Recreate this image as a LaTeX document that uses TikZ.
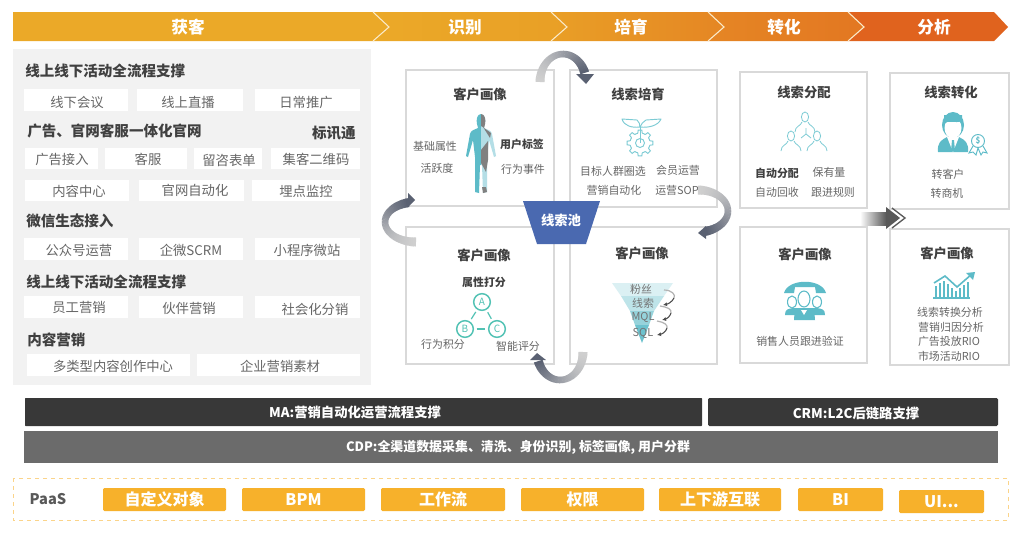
\documentclass[tikz,border=0pt]{standalone}
\usepackage{fontspec}
\usetikzlibrary{arrows.meta}
\setmainfont{Noto Sans CJK SC}
\definecolor{txt}{HTML}{666666}
\definecolor{ttl}{HTML}{404040}
\definecolor{teal1}{HTML}{5DBBC8}
\definecolor{teal2}{HTML}{7CCBD4}
\definecolor{lightbody}{HTML}{B4DEE6}
\definecolor{abc}{HTML}{52C2B4}
\definecolor{arcl}{HTML}{CFCFCF}
\definecolor{arcd}{HTML}{5A6172}
\definecolor{orangebox}{HTML}{F7B12B}
\definecolor{poolblue}{HTML}{4A69B0}
\definecolor{bandA}{HTML}{EBA928}
\definecolor{bandB}{HTML}{E99F26}
\definecolor{bandC}{HTML}{E79325}
\definecolor{bandD}{HTML}{E58624}
\definecolor{bandE}{HTML}{E37722}
\definecolor{bandF}{HTML}{E0631E}
\newcommand\gradarc[7]{%
  \foreach \i in {0,...,47}{
    \pgfmathsetmacro\pc{100*(\i/47)^1.4}
    \pgfmathsetmacro\aa{#5+(#6-#5)*\i/48}
    \pgfmathsetmacro\ab{#5+(#6-#5)*(\i+1.3)/48}
    \pgfmathsetmacro\wd{(#7-2.5*sin(\i*180/47))*0.75}
    \draw[arcd!\pc!arcl,line width=\wd pt] ({#1+#3*cos(\aa)},{#2-#4*sin(\aa)}) -- ({#1+#3*cos(\ab)},{#2-#4*sin(\ab)});
  }}
\newcommand\wb[8]{\fill[white] (#2,#3) rectangle (#4,#5); \node[item] (#1) at (#6,#7) {#8};}
\newcommand\card[5]{\fill[white] (#2,#3) rectangle (#4,#5); \draw[cardline] (#2,#3) rectangle (#4,#5); \coordinate (#1) at ({(#2+#4)/2},{(#3+#5)/2});}
\newcommand\oran[6]{\fill[orangebox,rounded corners=1pt] (#2,#3) rectangle (#4,#5); \node[orangetxt] (#1) at ({(#2+#4)/2},{(#3+#5)/2}) {#6};}
\newcommand\peopleicon[2]{\begin{scope}[shift={(#1,#2)},teal2,line width=.6pt]
  \draw (0,-3) ellipse [x radius=3.6,y radius=5];
  \draw (-10,12) .. controls (-10,6) and (-4,6) .. (-3,2);
  \draw (10,12) .. controls (10,6) and (4,6) .. (3,2);
\end{scope}}
\tikzset{
  x=0.75pt,y=-0.75pt,
  item/.style={font=\fontsize{10}{12}\selectfont,text=txt,inner sep=0pt},
  head/.style={font=\fontsize{10.9}{13}\selectfont\bfseries,text=ttl,inner sep=0pt,anchor=west},
  ctitle/.style={font=\fontsize{10}{12}\selectfont\bfseries,text=ttl,inner sep=0pt},
  small/.style={font=\fontsize{8.2}{10}\selectfont,text=txt,inner sep=0pt},
  smallb/.style={font=\fontsize{8.2}{10}\selectfont\bfseries,text=ttl,inner sep=0pt},
  cardline/.style={draw=black!15,line width=.8pt},
  bandtxt/.style={font=\fontsize{12.5}{15}\selectfont\bfseries,text=white,inner sep=0pt},
  bartxt/.style={font=\fontsize{10}{12}\selectfont\bfseries,text=white,inner sep=0pt},
  orangetxt/.style={font=\fontsize{12}{14}\selectfont\bfseries,text=white,inner sep=0pt},
  abcnode/.style={draw=abc,line width=1.1pt,circle,minimum size=12.5pt,inner sep=0pt,font=\fontsize{7.5}{8}\selectfont,text=abc},
}
\begin{document}
\begin{tikzpicture}
\useasboundingbox (0,0) rectangle (1024,536);
\fill[white] (0,0) rectangle (1024,536);
% header band
\fill[bandA] (13,12) -- (373,12) -- (389,27) -- (373,41) -- (13,41) -- cycle;
\shade[left color=bandA,right color=bandB] (373,12) -- (551,12) -- (567,27) -- (551,41) -- (373,41) -- (389,27) -- cycle;
\shade[left color=bandB,right color=bandD] (551,12) -- (708,12) -- (724,27) -- (708,41) -- (551,41) -- (567,27) -- cycle;
\shade[left color=bandD,right color=bandE] (708,12) -- (848,12) -- (864,27) -- (848,41) -- (708,41) -- (724,27) -- cycle;
\fill[bandF] (848,12) -- (994,12) -- (1008,27) -- (994,41) -- (848,41) -- (864,27) -- cycle;
\draw[white!75!bandA,line width=.8pt] (373,12) -- (389,27) -- (373,41);
\draw[white!75!bandA,line width=.8pt] (551,12) -- (567,27) -- (551,41);
\draw[white!75!bandA,line width=.8pt] (708,12) -- (724,27) -- (708,41);
\draw[white!75!bandA,line width=.8pt] (848,12) -- (864,27) -- (848,41);
\node[bandtxt] (b1) at (188,27) {获客};
\node[bandtxt] (b2) at (465,27) {识别};
\node[bandtxt] (b3) at (631,27) {培育};
\node[bandtxt] (b4) at (784,27) {转化};
\node[bandtxt] (b5) at (934,27) {分析};
% left panel
\fill[black!5] (13,49) rectangle (371,385);
\node[head] (t1) at (25,71) {线上线下活动全流程支撑};
\wb{a1}{24}{89}{128}{111}{77}{102}{线下会议}
\wb{a2}{137}{89}{243}{111}{188}{102}{线上直播}
\wb{a3}{255}{89}{360}{111}{306}{102}{日常推广}
\node[head] (t2) at (27,131) {广告、官网客服一体化官网};
\node[head,anchor=east] (t2b) at (356,133) {标讯通};
\wb{c1}{25}{148}{98}{169}{62}{159}{广告接入}
\wb{c2}{105}{148}{187}{169}{148}{159}{客服}
\wb{c3}{194}{148}{262}{169}{229}{160}{留咨表单}
\wb{c4}{271}{148}{360}{169}{316}{159}{集客二维码}
\wb{d1}{25}{180}{129}{201}{79}{191}{内容中心}
\wb{d2}{139}{180}{244}{201}{195}{190}{官网自动化}
\wb{d3}{252}{180}{360}{201}{306}{191}{埋点监控}
\node[head] (t3) at (26,221) {微信生态接入};
\wb{e1}{24}{238}{128}{260}{79}{250}{公众号运营}
\wb{e2}{139}{238}{243}{260}{191}{250}{企微SCRM}
\wb{e3}{255}{238}{360}{260}{307}{250}{小程序微站}
\node[head] (t4) at (26,282) {线上线下活动全流程支撑};
\wb{f1}{24}{296}{128}{318}{79}{307}{员工营销}
\wb{f2}{139}{296}{243}{318}{189}{308}{伙伴营销}
\wb{f3}{255}{296}{360}{318}{315}{309}{社会化分销}
\node[head] (t5) at (27,340) {内容营销};
\wb{g1}{27}{354}{190}{376}{113}{366}{多类型内容创作中心}
\wb{g2}{197}{354}{360}{376}{280}{366}{企业营销素材}
% cards
\card{k1}{406}{70}{554}{206}
\card{k2}{570}{70}{717}{207}
\card{k3}{406}{227}{554}{364}
\card{k4}{570}{227}{717}{364}
\card{k5}{740}{72}{867}{208}
\card{k6}{740}{227}{867}{363}
\card{k7}{890}{73}{1009}{209}
\card{k8}{890}{229}{1009}{365}
% card 1
\node[ctitle] (k1t) at (480,94) {客户画像};
\node[small] (k1a) at (435,146) {基础属性};
\node[small] (k1b) at (437,168) {活跃度};
\node[smallb] (k1c) at (522,144) {用户标签};
\node[small] (k1d) at (523,169) {行为事件};
% body figure
\fill[teal1] (481,114) .. controls (477,114) and (476,120) .. (477,124) -- (478,128) .. controls (474,130) and (471,130) .. (470,134) -- (466,156) -- (468,157) -- (473,140) -- (475,157) -- (475,192) -- (479,193) -- (480,165) -- (481,165) -- cycle;
\fill[lightbody] (481,114) .. controls (485,114) and (486,120) .. (485,124) -- (484,128) .. controls (488,130) and (491,130) .. (492,134) -- (496,156) -- (494,157) -- (489,140) -- (487,157) -- (487,192) -- (483,193) -- (482,165) -- (481,165) -- cycle;
\fill[black!50] (481,114) .. controls (485,114) and (486,120) .. (485,124) -- (484,128) -- (491,133) -- (490,138) -- (483,127) -- (481,126) -- cycle;
\fill[black!50] (481,150) -- (488,141) -- (488,160) -- (486,172) -- (481,163) -- cycle;
\fill[black!50] (482,187) -- (486,187) -- (487,192) -- (483,193) -- cycle;
% card 2
\node[ctitle] (k2t) at (638,94) {线索培育};
\draw[teal2,line width=.7pt,line join=round] (622,119) -- (637,120) .. controls (639,122) and (640,124) .. (640,127) .. controls (632,128) and (624,126) .. cycle;
\draw[teal2,line width=.7pt,line join=round] (661,119) -- (646,120) .. controls (643,122) and (641,124) .. (640,127) .. controls (648,128) and (658,126) .. cycle;
\draw[teal2,line width=.7pt] (640,127) -- (640,143);
\begin{scope}[shift={(640,143)},teal2,line width=.7pt]
\foreach \t in {0,45,...,315}{
  \draw ({10*cos(\t-13)},{10*sin(\t-13)}) -- ({13*cos(\t-8)},{13*sin(\t-8)}) -- ({13*cos(\t+8)},{13*sin(\t+8)}) -- ({10*cos(\t+13)},{10*sin(\t+13)});
  \draw ({10*cos(\t+13)},{10*sin(\t+13)}) -- ({10*cos(\t+22.5)},{10*sin(\t+22.5)}) -- ({10*cos(\t+32)},{10*sin(\t+32)});
}
\draw (0,0) circle [radius=4.5];
\end{scope}
\node[small] (k2a) at (613,171) {目标人群圈选};
\node[small] (k2b) at (678,170) {会员运营};
\node[small] (k2c) at (614,190) {营销自动化};
\node[small] (k2d) at (677,190) {运营SOP};
% card 3
\node[ctitle] (k3t) at (484,255) {客户画像};
\node[smallb] (k3a) at (484,282) {属性打分};
\node[abcnode] (nA) at (482,302) {A};
\node[abcnode] (nB) at (465,329) {B};
\node[abcnode] (nC) at (497,329) {C};
\draw[abc,line width=.9pt,shorten >=2pt,shorten <=2pt] (nA) -- (nB);
\draw[abc,line width=.9pt,shorten >=2pt,shorten <=2pt] (nA) -- (nC);
\draw[abc,line width=.9pt,shorten >=2pt,shorten <=2pt] (nB) -- (nC);
\node[small] (k3b) at (443,344) {行为积分};
\node[small] (k3c) at (518,346) {智能评分};
% card 4
\node[ctitle] (k4t) at (642,253) {客户画像};
\fill[teal1!22!white] (612,283) -- (673,283) -- (664,296) -- (621,296) -- cycle;
\fill[teal1!40!white] (621,296) -- (664,296) -- (654,311) -- (630,311) -- cycle;
\fill[teal1!65!white] (630,311) -- (654,311) -- (649,325) -- (635,325) -- cycle;
\fill[teal1!90!white] (635,325) -- (649,325) -- (642,343) -- cycle;
\node[small,text=black!55] (k4a) at (641,289) {粉丝};
\node[small,text=black!55] (k4b) at (643,303) {线索};
\node[small,text=black!55] (k4c) at (643,317) {MQL};
\node[small,text=black!55] (k4d) at (643,333) {SQL};
\draw[black!30,line width=.9pt] (664,290) .. controls (672,290) and (676,295) .. (674,298);
\draw[black!70,line width=.8pt,-{Latex[length=3pt,width=3pt]}] (674,298) .. controls (672,302) and (668,304) .. (663,305);
\draw[black!30,line width=.9pt] (660,306) .. controls (667,307) and (672,309) .. (671,313);
\draw[black!70,line width=.8pt,-{Latex[length=3pt,width=3pt]}] (671,313) .. controls (670,317) and (666,319) .. (662,320);
\draw[black!30,line width=.9pt] (657,321) .. controls (664,322) and (668,325) .. (667,328);
\draw[black!70,line width=.8pt,-{Latex[length=3pt,width=3pt]}] (667,328) .. controls (666,332) and (662,334) .. (657,335);
% card 5
\node[ctitle] (k5t) at (804,92) {线索分配};
\peopleicon{805}{120}
\peopleicon{791}{139}
\peopleicon{817}{139}
\draw[teal2,line width=.6pt] (806,134) -- (806,128) (806,134) -- (801,138) (806,134) -- (811,138);
\node[smallb] (k5a) at (777,173) {自动分配};
\node[small] (k5b) at (829,172) {保有量};
\node[small] (k5c) at (777,192) {自动回收};
\node[small] (k5d) at (833,192) {跟进规则};
% card 6
\node[ctitle] (k6t) at (805,254) {客户画像};
\fill[teal1] (784,293) .. controls (788,278) and (822,278) .. (826,293) -- (816,293) -- (815,287) -- (795,287) -- (794,293) -- cycle;
\fill[teal1] (785,315) .. controls (785,309) and (788,309) .. (793,308) -- (817,308) .. controls (822,309) and (825,309) .. (825,315) -- cycle;
\draw[teal1,fill=white,line width=.8pt] (792,302) ellipse [x radius=4.5,y radius=6];
\draw[teal1,fill=white,line width=.8pt] (817,302) ellipse [x radius=4.5,y radius=6];
\fill[teal1] (794,320) .. controls (794,312) and (797,310) .. (800,309) -- (809,309) .. controls (812,310) and (815,312) .. (815,320) -- cycle;
\draw[teal1,fill=white,line width=.8pt] (804,299) ellipse [x radius=6,y radius=8];
\fill[white] (801,310) -- (804,315) -- (807,310) -- cycle;
\node[small] (k6a) at (800,341) {销售人员跟进验证};
% card 7
\node[ctitle] (k7t) at (951,92) {线索转化};
\fill[teal1] (938,152) .. controls (937,143) and (941,140) .. (947,137) -- (959,137) .. controls (965,140) and (969,143) .. (968,152) -- cycle;
\fill[teal1] (953,125) ellipse [x radius=11,y radius=13];
\fill[white] (953,128) ellipse [x radius=8.5,y radius=10.5];
\fill[teal1] (944,124) .. controls (948,119) and (955,124) .. (962,121) -- (962,115) -- (944,115) -- cycle;
\fill[white] (947,137) -- (959,137) -- (953,152) -- cycle;
\fill[teal1] (952,140) -- (954,140) -- (955,151) -- (951,151) -- cycle;
\draw[teal1,line width=.7pt] (978,141) circle [radius=6.5];
\draw[teal1,line width=.7pt] (973,146) -- (969,153) -- (973,152) -- (976,155) -- (978,148) -- (981,155) -- (983,152) -- (987,153) -- (983,146);
\node[font=\fontsize{6}{7}\selectfont\bfseries,text=teal1,inner sep=0pt] (k7d) at (978,141) {\$};
\node[small] (k7a) at (948,174) {转客户};
\node[small] (k7b) at (947,193) {转商机};
% card 8
\node[ctitle] (k8t) at (947,253) {客户画像};
\draw[teal1,line width=1.2pt] (934,283) -- (945,276) -- (957,287) -- (972,274);
\fill[teal1] (975,272) -- (966,273) -- (973,280) -- cycle;
\foreach \xa/\ya in {936/286,940/283,944/281,948/284,952/288,956/291,960/288,964/285,968/282}
  \draw[teal1,line width=1.1pt] (\xa,\ya) -- (\xa,298);
\draw[teal1,line width=1.3pt] (933,298) -- (970,298);
\node[small] (k8a) at (950,312) {线索转换分析};
\node[small] (k8b) at (951,327) {营销归因分析};
\node[small] (k8c) at (949,341) {广告投放RIO};
\node[small] (k8d) at (949,356) {市场活动RIO};
% pool
\fill[poolblue] (523,201) -- (600,201) -- (586,244) -- (537,244) -- cycle;
\node[ctitle,text=white] (pool) at (561,220) {线索池};
% curved arrows
\gradarc{563}{82}{23}{28}{180}{20}{9}
\fill[arcd] (576,74) -- (594,74) -- (586,84) -- cycle;
\gradarc{698}{211}{30}{21}{90}{-75}{9}
\fill[arcd] (698,233) -- (706,226) -- (706,239) -- cycle;
\gradarc{560}{352}{23}{28}{0}{-160}{9}
\fill[arcd] (537,353) -- (530,360) -- (546,360) -- cycle;
\gradarc{416}{222}{31}{20}{270}{105}{9}
\fill[arcd] (415,200) -- (408,193) -- (408,207) -- cycle;
% straight arrow
\shade[left color=white,right color=black!65] (860,212) rectangle (886,225);
\fill[black!65] (886,207) -- (900,218) -- (886,229) -- cycle;
\draw[black!65,line width=1pt] (892,208) -- (905,218) -- (892,228);
% bars
\fill[black!78,rounded corners=.5pt] (25,398) rectangle (702,426);
\node[bartxt] (ma) at (355,412) {MA:营销自动化运营流程支撑};
\fill[black!78,rounded corners=1pt] (708,398) rectangle (998,426);
\node[bartxt] (crm) at (856,413) {CRM:L2C后链路支撑};
\fill[black!58] (24,431) rectangle (998,463);
\node[bartxt,font=\fontsize{9.7}{12}\selectfont\bfseries] (cdp) at (518,447) {CDP:全渠道数据采集、清洗、身份识别, 标签画像, 用户分群};
% PaaS
\draw[orangebox!55!white,dashed,line width=.6pt] (13,478) rectangle (1008,520);
\node[font=\fontsize{11}{13}\selectfont\bfseries,text=black!65,inner sep=0pt] (paas) at (48,499) {PaaS};
\oran{p1}{103}{488}{226}{511}{自定义对象}
\oran{p2}{242}{488}{365}{511}{BPM}
\oran{p3}{381}{488}{505}{511}{工作流}
\oran{p4}{521}{488}{644}{511}{权限}
\oran{p5}{659}{488}{781}{511}{上下游互联}
\oran{p6}{798}{488}{883}{511}{BI}
\oran{p7}{899}{490}{984}{513}{UI...}
\end{tikzpicture}
\end{document}
